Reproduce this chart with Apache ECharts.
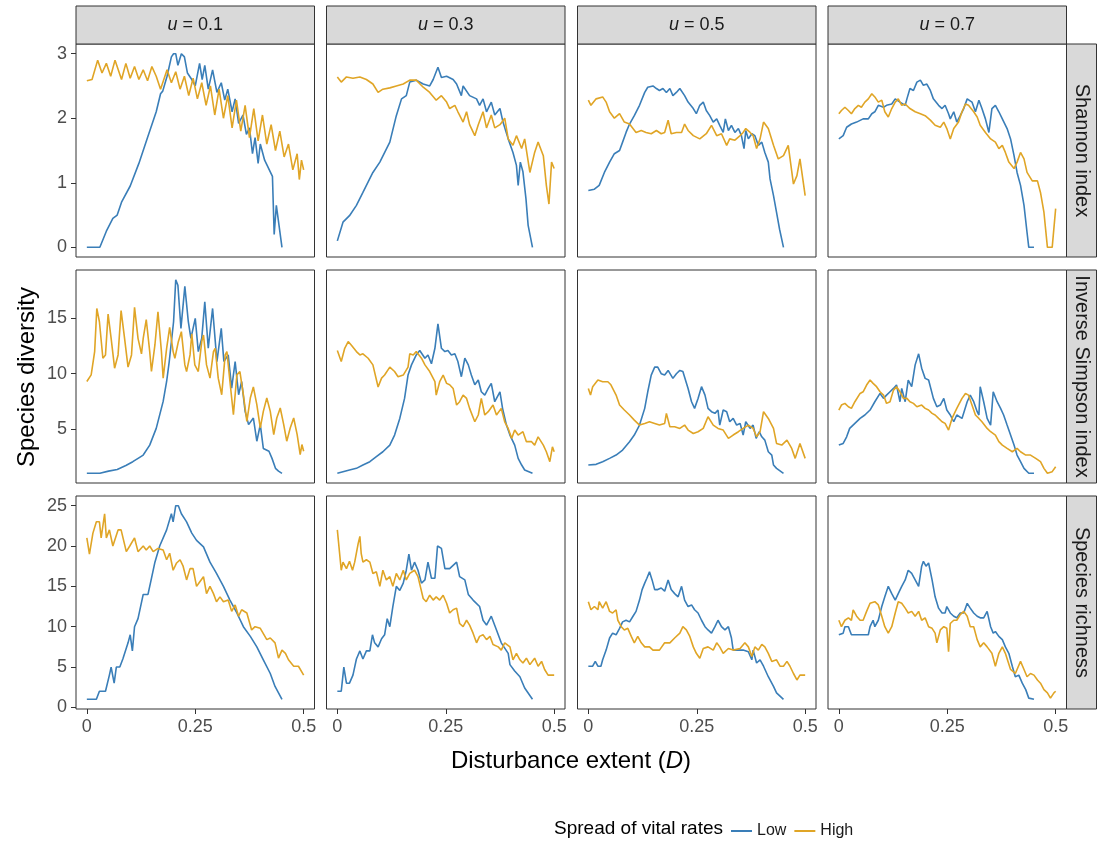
<!DOCTYPE html>
<html>
<head>
<meta charset="utf-8">
<script src="https://cdn.jsdelivr.net/npm/echarts@6/dist/echarts.min.js"></script>
<style>
  html, body { margin: 0; padding: 0; background: #fff; }
  #chart { width: 1100px; height: 845px; }
</style>
</head>
<body>
<div id="chart"></div>
<script>
// facet labels and ticks
const uValues = ['0.1', '0.3', '0.5', '0.7']
const indexNames = ['Shannon index', 'Inverse Simpson index', 'Species richness']
const spreadNames = ['Low', 'High']
const xTicks = [0, 0.25, 0.5]
const yTicks = [[0, 1, 2, 3], [5, 10, 15], [0, 5, 10, 15, 20, 25]]

// Shannon index, [D, value]
const shannonLow01 = [[0,0],[0.03,0],[0.045,0.25],[0.06,0.45],[0.07,0.5],[0.08,0.7],[0.1,0.95],[0.12,1.3],[0.14,1.7],[0.16,2.1],[0.17,2.38],[0.175,2.42],[0.185,2.65],[0.195,2.95],[0.2,3.0],[0.205,3.0],[0.21,2.82],[0.218,3.0],[0.225,2.95],[0.232,2.7],[0.24,2.62],[0.25,2.5],[0.26,2.85],[0.266,2.6],[0.272,2.82],[0.28,2.45],[0.29,2.75],[0.3,2.4],[0.31,2.55],[0.318,2.28],[0.325,2.45],[0.335,2.1],[0.342,2.3],[0.35,1.92],[0.36,2.05],[0.368,1.75],[0.375,1.85],[0.382,1.45],[0.388,1.7],[0.395,1.3],[0.4,1.6],[0.41,1.35],[0.428,1.1],[0.432,0.2],[0.437,0.65],[0.45,0]]
const shannonHigh01 = [[0,2.58],[0.012,2.6],[0.025,2.9],[0.035,2.7],[0.045,2.85],[0.055,2.65],[0.065,2.9],[0.08,2.6],[0.09,2.85],[0.1,2.62],[0.11,2.8],[0.12,2.6],[0.13,2.75],[0.14,2.58],[0.15,2.8],[0.16,2.65],[0.17,2.45],[0.185,2.75],[0.195,2.55],[0.205,2.72],[0.215,2.45],[0.225,2.65],[0.235,2.35],[0.245,2.62],[0.255,2.3],[0.265,2.55],[0.275,2.2],[0.285,2.5],[0.295,2.05],[0.305,2.45],[0.315,2.0],[0.325,2.35],[0.335,1.85],[0.345,2.28],[0.355,1.8],[0.365,2.2],[0.375,1.7],[0.385,2.15],[0.395,1.65],[0.405,2.05],[0.415,1.6],[0.425,1.9],[0.435,1.5],[0.445,1.8],[0.455,1.4],[0.465,1.6],[0.475,1.2],[0.485,1.45],[0.49,1.05],[0.495,1.35],[0.5,1.2]]
const shannonLow03 = [[0,0.1],[0.013,0.39],[0.028,0.49],[0.044,0.65],[0.059,0.85],[0.082,1.16],[0.098,1.32],[0.121,1.63],[0.136,2.04],[0.148,2.3],[0.159,2.35],[0.167,2.56],[0.182,2.59],[0.198,2.53],[0.213,2.5],[0.221,2.6],[0.232,2.79],[0.24,2.63],[0.252,2.65],[0.267,2.6],[0.275,2.53],[0.286,2.35],[0.29,2.5],[0.305,2.35],[0.321,2.3],[0.328,2.2],[0.336,2.3],[0.344,2.1],[0.355,2.25],[0.363,2.05],[0.375,2.15],[0.382,1.94],[0.394,1.68],[0.405,1.47],[0.413,1.27],[0.417,0.96],[0.422,1.32],[0.428,1.17],[0.435,0.75],[0.44,0.34],[0.45,0]]
const shannonHigh03 = [[0,2.64],[0.009,2.56],[0.021,2.64],[0.036,2.62],[0.052,2.64],[0.067,2.6],[0.082,2.53],[0.094,2.4],[0.105,2.45],[0.121,2.47],[0.136,2.5],[0.152,2.53],[0.167,2.59],[0.182,2.59],[0.198,2.48],[0.213,2.4],[0.228,2.28],[0.24,2.35],[0.252,2.25],[0.259,2.15],[0.271,2.2],[0.278,2.1],[0.29,1.94],[0.298,2.1],[0.305,1.9],[0.317,1.73],[0.325,1.9],[0.336,2.1],[0.344,1.85],[0.355,2.05],[0.363,1.85],[0.375,1.9],[0.386,2.0],[0.394,1.68],[0.405,1.58],[0.413,1.73],[0.425,1.53],[0.432,1.68],[0.444,1.16],[0.455,1.47],[0.463,1.63],[0.475,1.42],[0.482,0.96],[0.488,0.67],[0.494,1.32],[0.5,1.22]]
const shannonLow05 = [[0,0.88],[0.014,0.9],[0.025,0.96],[0.037,1.16],[0.049,1.32],[0.06,1.45],[0.072,1.5],[0.079,1.63],[0.087,1.78],[0.095,1.91],[0.106,2.04],[0.118,2.2],[0.13,2.4],[0.137,2.48],[0.149,2.5],[0.157,2.46],[0.164,2.43],[0.172,2.46],[0.18,2.4],[0.188,2.46],[0.195,2.35],[0.203,2.4],[0.211,2.46],[0.222,2.35],[0.23,2.25],[0.242,2.15],[0.249,2.07],[0.257,2.2],[0.265,2.25],[0.272,2.12],[0.28,2.04],[0.288,1.94],[0.296,1.99],[0.303,1.89],[0.311,1.78],[0.316,1.99],[0.323,1.81],[0.33,1.89],[0.338,1.78],[0.346,1.84],[0.353,1.73],[0.359,1.53],[0.363,1.81],[0.369,1.68],[0.377,1.76],[0.384,1.73],[0.392,1.58],[0.4,1.63],[0.407,1.47],[0.415,1.32],[0.419,1.06],[0.427,0.8],[0.434,0.54],[0.441,0.28],[0.45,0]]
const shannonHigh05 = [[0,2.28],[0.006,2.2],[0.018,2.3],[0.033,2.33],[0.041,2.25],[0.049,2.1],[0.06,2.0],[0.072,2.07],[0.083,1.94],[0.095,1.91],[0.11,1.78],[0.122,1.81],[0.133,1.78],[0.145,1.76],[0.157,1.81],[0.168,1.76],[0.176,1.78],[0.184,1.97],[0.191,1.76],[0.203,1.78],[0.215,1.78],[0.222,1.91],[0.23,1.81],[0.242,1.73],[0.257,1.68],[0.272,1.76],[0.284,1.89],[0.296,1.73],[0.307,1.76],[0.319,1.58],[0.326,1.68],[0.338,1.66],[0.35,1.73],[0.357,1.78],[0.363,1.84],[0.373,1.78],[0.38,1.73],[0.388,1.53],[0.396,1.68],[0.404,1.94],[0.415,1.84],[0.427,1.58],[0.438,1.37],[0.45,1.42],[0.461,1.58],[0.473,0.98],[0.481,1.11],[0.488,1.37],[0.5,0.8]]
const shannonLow07 = [[0,1.68],[0.01,1.73],[0.018,1.86],[0.029,1.91],[0.041,1.94],[0.056,1.99],[0.068,1.99],[0.076,2.07],[0.083,2.1],[0.091,2.2],[0.103,2.17],[0.11,2.2],[0.122,2.22],[0.13,2.3],[0.141,2.25],[0.153,2.2],[0.157,2.3],[0.164,2.46],[0.172,2.43],[0.18,2.56],[0.188,2.59],[0.195,2.51],[0.203,2.53],[0.211,2.43],[0.218,2.3],[0.23,2.2],[0.238,2.15],[0.245,2.2],[0.253,2.07],[0.257,1.99],[0.265,2.1],[0.272,1.94],[0.28,2.04],[0.288,2.15],[0.296,2.3],[0.307,2.25],[0.315,2.1],[0.323,2.28],[0.33,2.15],[0.338,1.99],[0.346,1.78],[0.353,2.15],[0.361,2.2],[0.369,2.1],[0.377,1.99],[0.388,1.84],[0.396,1.68],[0.404,1.42],[0.411,1.16],[0.419,0.96],[0.427,0.65],[0.434,0.23],[0.438,0],[0.45,0]]
const shannonHigh07 = [[0,2.07],[0.006,2.12],[0.014,2.17],[0.022,2.12],[0.029,2.07],[0.037,2.15],[0.045,2.2],[0.052,2.17],[0.06,2.25],[0.068,2.3],[0.076,2.38],[0.083,2.33],[0.091,2.25],[0.099,2.28],[0.106,2.1],[0.114,2.02],[0.122,2.15],[0.13,2.25],[0.137,2.3],[0.145,2.2],[0.153,2.22],[0.164,2.15],[0.176,2.1],[0.188,2.07],[0.199,2.04],[0.211,1.97],[0.222,1.89],[0.234,1.86],[0.242,1.94],[0.249,1.84],[0.257,1.68],[0.265,1.84],[0.276,1.94],[0.284,2.1],[0.292,2.22],[0.299,2.2],[0.311,2.1],[0.319,2.02],[0.326,1.89],[0.338,1.78],[0.35,1.68],[0.361,1.63],[0.369,1.53],[0.377,1.58],[0.384,1.47],[0.392,1.32],[0.404,1.22],[0.411,1.32],[0.419,1.47],[0.427,1.37],[0.434,1.16],[0.446,1.03],[0.458,1.03],[0.465,0.85],[0.473,0.54],[0.481,0],[0.492,0],[0.5,0.6]]

// Inverse Simpson index, [D, value]
const simpsonLow01 = [[0,1.0],[0.03,1.0],[0.05,1.2],[0.07,1.35],[0.09,1.7],[0.106,2.05],[0.12,2.4],[0.13,2.65],[0.145,3.55],[0.16,5.06],[0.176,7.5],[0.184,9.3],[0.19,11.1],[0.2,14.7],[0.205,18.5],[0.21,18.0],[0.217,14.1],[0.226,17.9],[0.234,14.7],[0.24,13.2],[0.25,15.0],[0.257,12.0],[0.265,13.2],[0.272,16.5],[0.28,12.3],[0.29,15.9],[0.3,11.1],[0.31,14.1],[0.316,11.1],[0.326,11.7],[0.334,8.7],[0.342,11.1],[0.35,8.1],[0.357,9.3],[0.365,6.6],[0.373,5.4],[0.384,6.0],[0.392,3.9],[0.4,5.4],[0.407,3.25],[0.42,3.0],[0.427,2.35],[0.435,1.45],[0.442,1.2],[0.45,1.0]]
const simpsonHigh01 = [[0,9.3],[0.01,9.9],[0.018,12.0],[0.023,15.9],[0.029,14.7],[0.037,11.4],[0.043,11.7],[0.049,15.4],[0.056,13.2],[0.064,10.5],[0.072,11.7],[0.079,15.7],[0.087,13.2],[0.095,10.6],[0.103,11.7],[0.11,16.0],[0.118,13.2],[0.126,11.8],[0.13,13.2],[0.137,14.9],[0.145,12.0],[0.149,10.2],[0.157,12.6],[0.164,15.6],[0.172,12.0],[0.176,9.6],[0.184,12.3],[0.191,14.2],[0.199,12.0],[0.203,11.4],[0.211,12.9],[0.218,13.8],[0.226,10.8],[0.23,10.2],[0.238,11.7],[0.242,13.6],[0.249,10.8],[0.257,10.2],[0.265,12.9],[0.269,13.5],[0.276,10.8],[0.284,9.6],[0.292,12.0],[0.296,12.3],[0.303,9.6],[0.311,8.1],[0.319,11.7],[0.323,12.0],[0.33,9.3],[0.338,6.3],[0.346,9.9],[0.353,10.2],[0.361,8.1],[0.369,5.7],[0.377,7.8],[0.384,8.8],[0.392,7.2],[0.4,5.1],[0.407,6.6],[0.415,7.8],[0.423,6.6],[0.431,4.5],[0.438,6.0],[0.446,6.9],[0.454,5.4],[0.461,3.9],[0.469,5.1],[0.477,6.0],[0.485,4.5],[0.492,2.7],[0.496,3.6],[0.5,3.0]]
const simpsonLow03 = [[0,1.0],[0.013,1.14],[0.028,1.3],[0.044,1.45],[0.059,1.75],[0.075,2.05],[0.09,2.5],[0.105,2.95],[0.121,3.55],[0.132,4.46],[0.144,5.96],[0.155,7.77],[0.163,9.88],[0.171,10.8],[0.182,11.7],[0.19,12.1],[0.202,11.4],[0.209,11.7],[0.217,10.9],[0.225,12.3],[0.232,14.5],[0.24,12.3],[0.248,12.0],[0.255,12.1],[0.263,11.7],[0.271,11.8],[0.278,11.1],[0.286,9.73],[0.294,11.4],[0.302,10.8],[0.309,9.88],[0.317,9.0],[0.325,9.43],[0.332,8.37],[0.34,8.07],[0.348,8.67],[0.355,9.13],[0.363,7.47],[0.375,8.37],[0.381,6.87],[0.39,5.36],[0.398,4.46],[0.409,3.55],[0.417,2.35],[0.425,1.75],[0.432,1.3],[0.45,1.0]]
const simpsonHigh03 = [[0,12.1],[0.009,11.1],[0.017,12.3],[0.025,12.9],[0.032,12.6],[0.044,12.0],[0.052,11.7],[0.059,11.8],[0.071,11.4],[0.082,10.8],[0.094,8.8],[0.102,9.6],[0.109,9.88],[0.121,10.6],[0.132,10.2],[0.14,9.73],[0.152,9.88],[0.163,10.6],[0.167,11.8],[0.175,11.7],[0.182,12.0],[0.194,11.4],[0.202,10.8],[0.213,10.2],[0.225,9.28],[0.228,8.07],[0.236,9.28],[0.244,9.88],[0.252,9.13],[0.259,9.0],[0.267,8.67],[0.275,7.17],[0.282,7.47],[0.29,8.07],[0.298,7.77],[0.305,6.87],[0.317,5.66],[0.325,6.27],[0.332,7.77],[0.34,6.27],[0.348,6.57],[0.359,7.17],[0.367,6.27],[0.378,6.87],[0.386,5.66],[0.394,5.06],[0.402,4.16],[0.409,4.91],[0.417,4.46],[0.428,4.76],[0.436,3.86],[0.448,3.86],[0.455,3.55],[0.463,4.3],[0.475,3.55],[0.482,2.95],[0.49,2.05],[0.496,3.4],[0.5,2.95]]
const simpsonLow05 = [[0,1.75],[0.018,1.81],[0.033,2.05],[0.049,2.35],[0.064,2.65],[0.079,3.1],[0.095,3.86],[0.106,4.46],[0.118,5.36],[0.13,6.87],[0.137,8.37],[0.145,9.88],[0.153,10.6],[0.16,10.6],[0.168,10.0],[0.176,9.88],[0.184,10.3],[0.195,9.58],[0.203,10.0],[0.211,10.3],[0.218,10.2],[0.23,8.67],[0.238,7.47],[0.245,6.87],[0.253,7.77],[0.261,8.83],[0.269,8.07],[0.276,6.87],[0.284,6.57],[0.292,6.42],[0.299,6.72],[0.303,5.36],[0.311,6.72],[0.319,6.57],[0.326,5.66],[0.334,5.96],[0.342,5.36],[0.35,5.51],[0.357,4.46],[0.363,5.66],[0.373,5.06],[0.38,5.36],[0.387,4.16],[0.394,4.76],[0.4,4.3],[0.407,4.0],[0.415,2.95],[0.423,2.65],[0.427,1.75],[0.434,1.45],[0.45,1.0]]
const simpsonHigh05 = [[0,8.67],[0.005,8.07],[0.01,8.83],[0.022,9.43],[0.033,9.28],[0.045,9.28],[0.052,9.0],[0.064,8.07],[0.072,7.17],[0.083,6.72],[0.095,6.27],[0.106,5.81],[0.118,5.36],[0.13,5.51],[0.141,5.66],[0.153,5.51],[0.164,5.36],[0.176,5.51],[0.18,6.42],[0.188,5.21],[0.199,5.21],[0.211,5.06],[0.222,5.36],[0.23,4.91],[0.242,4.6],[0.253,4.76],[0.265,5.06],[0.276,6.11],[0.288,5.36],[0.299,5.06],[0.311,4.91],[0.323,4.16],[0.334,4.46],[0.346,4.76],[0.357,5.06],[0.369,5.36],[0.38,5.06],[0.388,4.3],[0.396,4.76],[0.404,6.57],[0.415,5.96],[0.427,5.06],[0.434,3.7],[0.446,3.55],[0.458,4.0],[0.469,3.25],[0.477,2.35],[0.488,3.7],[0.5,2.35]]
const simpsonLow07 = [[0,3.55],[0.01,3.7],[0.018,4.3],[0.025,5.06],[0.037,5.51],[0.049,5.96],[0.06,6.27],[0.072,6.72],[0.083,7.47],[0.095,8.22],[0.103,7.77],[0.11,8.07],[0.118,8.37],[0.126,8.67],[0.133,8.98],[0.141,7.47],[0.145,8.67],[0.153,7.47],[0.16,9.43],[0.168,8.83],[0.176,10.8],[0.184,11.8],[0.191,10.5],[0.199,9.58],[0.207,9.43],[0.218,7.77],[0.226,7.02],[0.234,7.17],[0.242,7.77],[0.249,6.72],[0.257,6.27],[0.265,5.66],[0.272,6.27],[0.284,5.96],[0.296,7.47],[0.303,8.07],[0.311,7.47],[0.319,6.57],[0.323,6.27],[0.326,8.83],[0.334,7.47],[0.342,5.96],[0.35,5.36],[0.356,8.37],[0.365,7.47],[0.373,6.87],[0.38,6.27],[0.388,5.36],[0.396,4.46],[0.404,3.55],[0.411,2.65],[0.419,2.05],[0.427,1.45],[0.438,1.0],[0.45,1.0]]
const simpsonHigh07 = [[0,6.72],[0.006,7.17],[0.014,7.32],[0.022,7.02],[0.029,6.87],[0.037,7.47],[0.049,8.22],[0.056,8.37],[0.064,8.98],[0.072,9.43],[0.079,9.13],[0.087,8.83],[0.095,8.37],[0.103,8.07],[0.11,7.32],[0.118,7.47],[0.126,8.52],[0.133,8.83],[0.141,8.37],[0.149,7.77],[0.157,7.77],[0.164,7.47],[0.172,7.32],[0.18,7.02],[0.191,7.17],[0.199,6.87],[0.207,6.72],[0.215,6.42],[0.222,6.27],[0.23,5.96],[0.238,5.66],[0.245,5.51],[0.253,4.91],[0.261,5.96],[0.272,6.87],[0.284,7.77],[0.292,8.22],[0.299,8.07],[0.307,7.17],[0.315,6.27],[0.323,5.96],[0.33,5.66],[0.342,5.06],[0.35,4.76],[0.361,4.46],[0.369,3.86],[0.377,3.55],[0.388,3.25],[0.4,2.95],[0.411,3.25],[0.419,2.95],[0.431,2.65],[0.442,2.65],[0.454,2.35],[0.465,2.05],[0.473,1.45],[0.481,1.0],[0.492,1.15],[0.5,1.6]]

// Species richness, [D, value]
const richnessLow01 = [[0,1],[0.022,1],[0.029,2],[0.043,2],[0.052,4],[0.056,5],[0.063,3],[0.068,5],[0.076,5],[0.083,6],[0.095,8],[0.1,9],[0.105,7],[0.11,10],[0.118,11],[0.13,14],[0.141,14],[0.149,16],[0.157,18],[0.168,20],[0.184,22],[0.195,24],[0.199,23],[0.205,25],[0.211,25],[0.218,24],[0.23,23],[0.242,21.6],[0.253,20.7],[0.269,19.9],[0.284,18],[0.299,16.6],[0.315,15],[0.33,13.3],[0.346,11.7],[0.361,10],[0.377,8.8],[0.392,7.5],[0.407,5.9],[0.423,4.2],[0.434,2.6],[0.45,1]]
const richnessHigh01 = [[0,21],[0.006,19],[0.014,21.6],[0.022,23],[0.029,23],[0.033,21],[0.041,24],[0.045,21],[0.052,22],[0.06,20],[0.072,22],[0.079,22],[0.091,19.3],[0.099,20],[0.11,21],[0.118,19.3],[0.13,20],[0.137,19.5],[0.145,20],[0.153,19.3],[0.164,19.7],[0.176,19.5],[0.184,18.3],[0.191,19.1],[0.199,17],[0.207,17.9],[0.215,18.3],[0.222,17.5],[0.23,15.8],[0.238,17.2],[0.245,17.2],[0.253,15],[0.261,15.6],[0.269,16.2],[0.276,14.1],[0.284,15],[0.292,14.1],[0.299,13.1],[0.307,13.7],[0.315,13.1],[0.326,13.3],[0.334,11.9],[0.342,12.7],[0.35,11.3],[0.357,12.1],[0.369,11.7],[0.38,9.6],[0.388,10],[0.4,9.8],[0.415,8.4],[0.423,8.6],[0.434,8],[0.442,6.1],[0.45,7.1],[0.458,6.7],[0.465,5.9],[0.477,5.1],[0.488,5.1],[0.5,4]]
const richnessLow03 = [[0,2],[0.009,2],[0.015,5],[0.021,3],[0.028,3],[0.036,4],[0.044,6],[0.052,7],[0.059,6],[0.067,7],[0.075,7],[0.081,9],[0.086,8],[0.094,7.5],[0.102,8.5],[0.109,9],[0.115,11],[0.121,10],[0.128,12.5],[0.136,15],[0.144,14.5],[0.152,15.4],[0.159,17],[0.165,19],[0.171,17],[0.178,18],[0.186,17],[0.194,15.4],[0.202,15.8],[0.209,18],[0.217,16],[0.225,16],[0.231,20],[0.24,19.7],[0.248,17.2],[0.259,17.2],[0.275,18],[0.282,16.2],[0.294,15.8],[0.302,14],[0.313,13.3],[0.328,12.5],[0.336,10.8],[0.344,10.2],[0.355,11.3],[0.367,9.6],[0.378,8],[0.394,6.7],[0.398,5.3],[0.409,4.5],[0.421,3.8],[0.432,2.4],[0.45,1]]
const richnessHigh03 = [[0,22],[0.009,17],[0.013,18],[0.021,17.2],[0.028,18.1],[0.035,17],[0.04,18],[0.048,20.3],[0.052,21.2],[0.055,19.1],[0.059,18],[0.067,18.3],[0.075,18],[0.082,16.6],[0.09,16.8],[0.098,15],[0.105,17],[0.113,15.8],[0.121,16.2],[0.128,15],[0.136,16.6],[0.144,15.8],[0.152,17],[0.159,15.8],[0.167,16.6],[0.178,17],[0.186,16.2],[0.198,13.5],[0.205,13.1],[0.213,13.9],[0.221,13.3],[0.228,13.7],[0.236,13.3],[0.244,13.9],[0.252,12.9],[0.259,11.7],[0.267,12.1],[0.275,12.3],[0.282,10.4],[0.29,10],[0.298,10.8],[0.305,10.2],[0.313,9.2],[0.321,8],[0.328,8.8],[0.336,9],[0.344,8.4],[0.352,8.8],[0.359,7.8],[0.371,7.5],[0.378,7.1],[0.386,8],[0.398,7.5],[0.405,5.9],[0.413,6.7],[0.421,5.9],[0.428,5.5],[0.436,6.1],[0.444,5.3],[0.455,6.1],[0.463,5.1],[0.471,5.7],[0.478,4.7],[0.486,4],[0.5,4]]
const richnessLow05 = [[0,5.1],[0.01,5.1],[0.016,5.7],[0.022,5.1],[0.029,5.1],[0.033,5.9],[0.041,7.1],[0.049,8.6],[0.056,9.2],[0.064,9],[0.072,9.8],[0.079,10.6],[0.087,10.8],[0.095,10.6],[0.103,11.3],[0.11,11.9],[0.118,13.3],[0.124,14.6],[0.13,15.4],[0.135,16],[0.141,16.8],[0.147,15.8],[0.153,14.6],[0.16,14.6],[0.168,14.8],[0.176,14.4],[0.184,15.8],[0.191,14.6],[0.199,14.1],[0.207,13.7],[0.215,15],[0.222,13.3],[0.23,12.5],[0.238,12.7],[0.245,12.1],[0.253,11.7],[0.261,10.8],[0.269,10],[0.276,9.6],[0.284,9.2],[0.292,10],[0.299,10.8],[0.307,10],[0.315,9.6],[0.323,10],[0.33,8.6],[0.334,7.1],[0.346,7.1],[0.357,7.1],[0.369,6.9],[0.377,5.9],[0.38,7.1],[0.388,5.5],[0.396,5.9],[0.404,5.1],[0.415,3.8],[0.427,2.6],[0.434,1.8],[0.45,1]]
const richnessHigh05 = [[0,13.1],[0.006,12.1],[0.014,12.5],[0.022,12.1],[0.025,13.1],[0.033,12.3],[0.041,13.1],[0.049,11.9],[0.056,11.7],[0.064,12.1],[0.068,10.8],[0.076,10],[0.083,9.6],[0.091,9.8],[0.099,8.8],[0.106,8],[0.114,8.8],[0.122,8],[0.13,7.5],[0.141,7.5],[0.149,7.1],[0.164,7.1],[0.176,8],[0.188,8],[0.199,8.6],[0.211,9.2],[0.218,10],[0.226,9.6],[0.234,8.8],[0.242,7.5],[0.249,6.7],[0.257,6.1],[0.265,7.3],[0.276,7.5],[0.288,7.1],[0.296,8],[0.303,7.5],[0.311,6.7],[0.323,7.3],[0.334,7.1],[0.35,7.3],[0.361,8],[0.369,7.5],[0.377,6.3],[0.384,7.5],[0.392,7.1],[0.4,7.8],[0.407,7.5],[0.415,6.7],[0.423,5.7],[0.434,5.9],[0.442,5.1],[0.45,5.1],[0.458,5.7],[0.465,5.1],[0.473,4.2],[0.481,3.4],[0.488,4],[0.5,4]]
const richnessLow07 = [[0,9],[0.01,9.2],[0.014,10],[0.022,10],[0.029,9],[0.068,9],[0.072,10],[0.079,10.8],[0.083,10],[0.091,10.8],[0.099,12.5],[0.106,13.7],[0.114,15],[0.122,14.1],[0.13,13.3],[0.137,14.1],[0.145,15],[0.153,15.8],[0.16,17],[0.168,16.6],[0.176,15.8],[0.184,15],[0.191,17.5],[0.195,18.1],[0.201,17.5],[0.207,17.9],[0.215,15.8],[0.222,13.7],[0.23,12.3],[0.238,11.7],[0.245,11.7],[0.249,12.5],[0.257,11.7],[0.265,11.3],[0.272,11.1],[0.28,11.7],[0.288,11.7],[0.296,12.9],[0.303,12.3],[0.311,11.7],[0.319,11.3],[0.326,11.1],[0.334,11.1],[0.342,11.9],[0.35,10],[0.356,9.2],[0.361,9.4],[0.369,8.8],[0.377,8.4],[0.384,7.5],[0.392,6.7],[0.4,5.1],[0.407,3.8],[0.415,4],[0.423,3],[0.431,2.2],[0.438,1.15],[0.45,1]]
const richnessHigh07 = [[0,10.8],[0.006,10],[0.014,10.8],[0.022,11.1],[0.029,10.8],[0.033,12.1],[0.041,11.3],[0.049,10.8],[0.056,10.8],[0.064,11.9],[0.072,12.9],[0.083,13.1],[0.091,12.7],[0.099,11.3],[0.106,10],[0.114,9.2],[0.122,10],[0.13,11.7],[0.137,13.1],[0.145,12.9],[0.153,12.3],[0.16,11.7],[0.168,11.9],[0.176,11.3],[0.184,11.9],[0.191,10.8],[0.199,11.1],[0.207,10],[0.215,9.8],[0.222,9.2],[0.226,8],[0.234,9.6],[0.242,10],[0.249,9.8],[0.253,6.9],[0.257,10.4],[0.265,10.8],[0.272,10.8],[0.28,11.5],[0.288,11.9],[0.296,11.3],[0.303,10],[0.311,10],[0.319,8.4],[0.326,7.5],[0.334,8],[0.342,7.5],[0.353,6.7],[0.361,5.1],[0.369,6.7],[0.377,7.5],[0.384,6.7],[0.396,4.7],[0.407,4.2],[0.419,5.7],[0.427,4.7],[0.434,3.8],[0.442,4.2],[0.45,4],[0.458,3.4],[0.465,3],[0.473,2.2],[0.481,1.8],[0.488,1.15],[0.496,1.8],[0.5,2]]

// panels[row][col] = [low, high]
const panels = [
  [[shannonLow01, shannonHigh01], [shannonLow03, shannonHigh03], [shannonLow05, shannonHigh05], [shannonLow07, shannonHigh07]],
  [[simpsonLow01, simpsonHigh01], [simpsonLow03, simpsonHigh03], [simpsonLow05, simpsonHigh05], [simpsonLow07, simpsonHigh07]],
  [[richnessLow01, richnessHigh01], [richnessLow03, richnessHigh03], [richnessLow05, richnessHigh05], [richnessLow07, richnessHigh07]]
]

// ggplot style 5% expansion of the data range
const expand = (lo, hi) => [lo - (hi - lo) * 0.05, hi + (hi - lo) * 0.05]
const xRange = expand(0, 0.5)
const yRanges = [expand(0, 3), expand(1, 18.5), expand(1, 25)]

const colors = ['#3A7EB8', '#E0A526']
const font = 'Liberation Sans, Arial, sans-serif'

const colLeft = [76, 326.5, 577.5, 828]
const rowTop = [44, 270, 496]
const panelW = 238.5
const panelH = 213

const grids = []
const xAxes = []
const yAxes = []
const series = []
const graphics = []

for (let r = 0; r < 3; r++) {
  for (let c = 0; c < 4; c++) {
    const idx = r * 4 + c
    grids.push({
      left: colLeft[c], top: rowTop[r], width: panelW, height: panelH,
      show: true, backgroundColor: '#fff', borderColor: '#333', borderWidth: 1
    })
    xAxes.push({
      type: 'value', gridIndex: idx, min: xRange[0], max: xRange[1],
      axisLine: { show: false, onZero: false },
      splitLine: { show: false },
      axisTick: { show: r === 2, length: 5, lineStyle: { color: '#333' }, customValues: xTicks },
      axisLabel: { show: r === 2, customValues: xTicks, fontSize: 18, color: '#4D4D4D', fontFamily: font, margin: 9 }
    })
    yAxes.push({
      type: 'value', gridIndex: idx, min: yRanges[r][0], max: yRanges[r][1],
      axisLine: { show: false, onZero: false },
      splitLine: { show: false },
      axisTick: { show: c === 0, length: 5, lineStyle: { color: '#333' }, customValues: yTicks[r] },
      axisLabel: { show: c === 0, customValues: yTicks[r], fontSize: 18, color: '#4D4D4D', fontFamily: font, margin: 9 }
    })
    panels[r][c].forEach((data, k) => {
      series.push({
        name: spreadNames[k], type: 'line', xAxisIndex: idx, yAxisIndex: idx,
        data: data, symbol: 'none', color: colors[k],
        lineStyle: { width: 1.6, color: colors[k] }
      })
    })
  }
}

// top strips
for (let c = 0; c < 4; c++) {
  graphics.push({
    type: 'rect', shape: { x: colLeft[c], y: 6, width: panelW, height: 38 },
    style: { fill: '#D9D9D9', stroke: '#333', lineWidth: 1 }
  })
  graphics.push({
    type: 'text', x: colLeft[c] + panelW / 2, y: 25,
    style: {
      text: '{i|u} = ' + uValues[c], fontSize: 18, fontFamily: font, fill: '#1A1A1A',
      align: 'center', verticalAlign: 'middle',
      rich: { i: { fontStyle: 'italic', fontSize: 18, fontFamily: font } }
    }
  })
}
// right strips
for (let r = 0; r < 3; r++) {
  graphics.push({
    type: 'rect', shape: { x: colLeft[3] + panelW, y: rowTop[r], width: 30, height: panelH },
    style: { fill: '#D9D9D9', stroke: '#333', lineWidth: 1 }
  })
  graphics.push({
    type: 'text', x: colLeft[3] + panelW + 15, y: rowTop[r] + panelH / 2, rotation: -Math.PI / 2,
    style: { text: indexNames[r], fontSize: 20, fontFamily: font, fill: '#1A1A1A', align: 'center', verticalAlign: 'middle' }
  })
}
// axis titles
graphics.push({
  type: 'text', x: 27, y: 377, rotation: Math.PI / 2,
  style: { text: 'Species diversity', fontSize: 24, fontFamily: font, fill: '#000', align: 'center', verticalAlign: 'middle' }
})
graphics.push({
  type: 'text', x: 571, y: 761,
  style: {
    text: 'Disturbance extent ({i|D})', fontSize: 24, fontFamily: font, fill: '#000',
    align: 'center', verticalAlign: 'middle',
    rich: { i: { fontStyle: 'italic', fontSize: 24, fontFamily: font } }
  }
})
// legend title
graphics.push({
  type: 'text', x: 723, y: 829,
  style: { text: 'Spread of vital rates', fontSize: 19, fontFamily: font, fill: '#000', align: 'right', verticalAlign: 'middle' }
})

const chart = echarts.init(document.getElementById('chart'))
chart.setOption({
  animation: false,
  backgroundColor: '#fff',
  grid: grids,
  xAxis: xAxes,
  yAxis: yAxes,
  series: series,
  legend: {
    data: spreadNames.map(n => ({ name: n, icon: 'rect' })),
    left: 726, top: 818, itemWidth: 21, itemHeight: 2, itemGap: 8,
    textStyle: { fontSize: 16, fontFamily: font, color: '#1A1A1A' }
  },
  graphic: graphics
})
</script>
</body>
</html>
